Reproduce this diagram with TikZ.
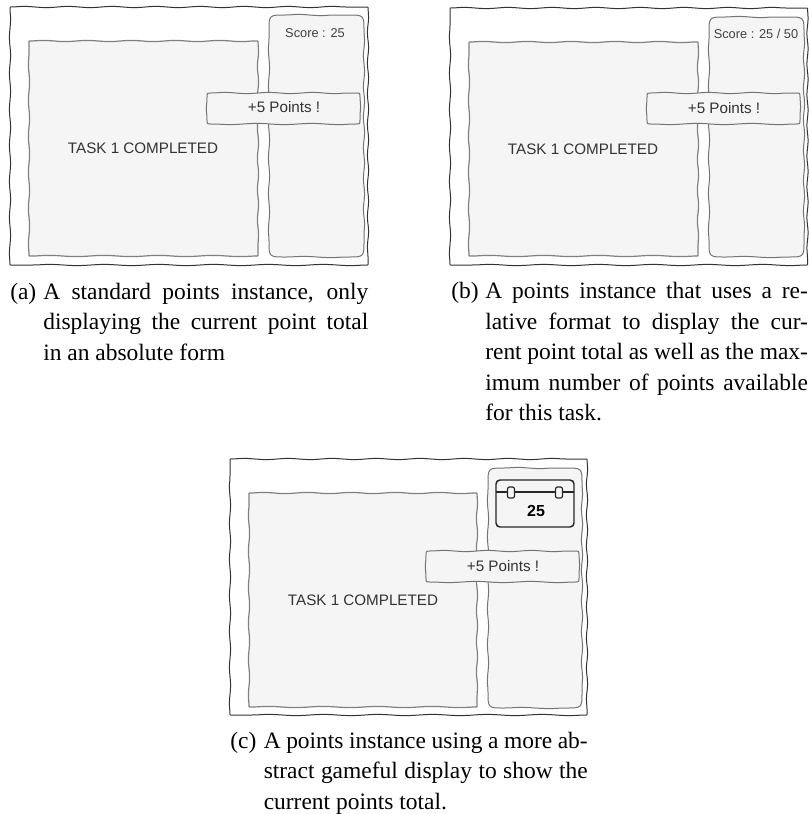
\documentclass[tikz,border=0pt]{standalone}
\usepackage{fontspec}
\setmainfont{Liberation Serif}
\newfontfamily\panelfont{Liberation Sans}
\usetikzlibrary{decorations.pathmorphing}
\tikzset{
  wavy/.style={decoration={snake, segment length=#1, amplitude=0.45pt}},
  frame_box/.style={draw=black!80, line width=0.75pt},
  task_box/.style={draw=black!50, fill=black!4, line width=0.9pt},
  side_box/.style={draw=black!55, fill=black!4, line width=0.75pt},
  bonus_box/.style={draw=black!55, fill=black!4, line width=0.75pt},
  badge_line/.style={draw=black!85, line width=1.1pt},
  big_text/.style={font=\panelfont\fontsize{11.4}{13}\selectfont, text=black!80, inner sep=0pt},
  score_text/.style={font=\panelfont\fontsize{9.6}{11}\selectfont, text=black!75, inner sep=0pt},
  tag_text/.style={font=\fontsize{17.6}{22.9}\selectfont, anchor=base west, inner sep=0pt},
  caption_text/.style={font=\fontsize{17.6}{22.9}\selectfont, anchor=base west, inner sep=0pt, text width=#1, align=justify}
}
% style, left, top, right, bottom, corner radius
\newcommand{\wobblybox}[6]{
  \draw[#1] ({#2+#6},#3)
    decorate[wavy=33pt] {-- ({#4-#6},#3)} .. controls (#4,#3) and (#4,#3) .. (#4,{#3+#6})
    decorate[wavy=23pt] {-- (#4,{#5-#6})} .. controls (#4,#5) and (#4,#5) .. ({#4-#6},#5)
    decorate[wavy=41pt] {-- ({#2+#6},#5)} .. controls (#2,#5) and (#2,#5) .. (#2,{#5-#6})
    decorate[wavy=27pt] {-- (#2,{#3+#6})} .. controls (#2,#3) and (#2,#3) .. ({#2+#6},#3) -- cycle;
}
\begin{document}
\begin{tikzpicture}[x=0.75pt, y=-0.75pt]
\useasboundingbox (0,0) rectangle (808,814);

% panel (a)
\wobblybox{frame_box}{10}{7}{368}{265}{0.5}
\wobblybox{task_box}{29}{41}{258}{256}{0.5}
\wobblybox{side_box}{269}{15}{364}{257}{16}
\wobblybox{bonus_box}{207}{93}{360}{124}{4}
\node[big_text] (task_a) at (143,148) {TASK 1 COMPLETED};
\node[score_text] (score_a) at (315,33) {Score : 25};
\node[big_text] (bonus_a) at (284,107) {+5 Points !};

% panel (b)
\wobblybox{frame_box}{450}{8}{807.5}{265}{0.5}
\wobblybox{task_box}{469}{42}{698}{256}{0.5}
\wobblybox{side_box}{709}{17}{804}{257}{16}
\wobblybox{bonus_box}{647}{93}{800}{124}{4}
\node[big_text] (task_b) at (583,149) {TASK 1 COMPLETED};
\node[score_text] (score_b) at (756,34) {Score : 25 / 50};
\node[big_text] (bonus_b) at (724,108) {+5 Points !};

% panel (c)
\wobblybox{frame_box}{230}{459}{587}{715}{0.5}
\wobblybox{task_box}{249}{493}{477}{707}{0.5}
\wobblybox{side_box}{488}{468}{582}{708}{16}
\wobblybox{bonus_box}{426}{551}{579}{582}{4}
\node[big_text] (task_c) at (363,600) {TASK 1 COMPLETED};
\node[big_text] (bonus_c) at (503,566) {+5 Points !};

% badge in panel (c)
\draw[badge_line, fill=black!4, rounded corners=3pt] (496,480) rectangle (574,527);
\draw[badge_line, line width=0.8pt] (496,492)--(574,492);
\draw[badge_line, line width=0.9pt, fill=black!4, rounded corners=1.5pt] (507.5,487) rectangle (514.5,498);
\draw[badge_line, line width=0.9pt, fill=black!4, rounded corners=1.5pt] (555.5,487) rectangle (562.5,498);
\node[font=\panelfont\bfseries\fontsize{12}{14}\selectfont, inner sep=0pt] (total_c) at (536,511) {25};

% captions
\node[tag_text] (tag_a) at (10,299) {(a)};
\node[caption_text=243.75pt] (caption_a) at (43,299) {A standard points instance, only\linebreak displaying the current point total\linebreak in an absolute form};
\node[tag_text] (tag_b) at (451,298.5) {(b)};
\node[caption_text=242pt] (caption_b) at (485,298.5) {A points instance that uses a re-\linebreak lative format to display the cur-\linebreak rent point total as well as the max-\linebreak imum number of points available\linebreak for this task.};
\node[tag_text] (tag_c) at (230,748) {(c)};
\node[caption_text=243pt] (caption_c) at (263.5,748) {A points instance using a more ab-\linebreak stract gameful display to show the\linebreak current points total.};
\end{tikzpicture}
\end{document}
